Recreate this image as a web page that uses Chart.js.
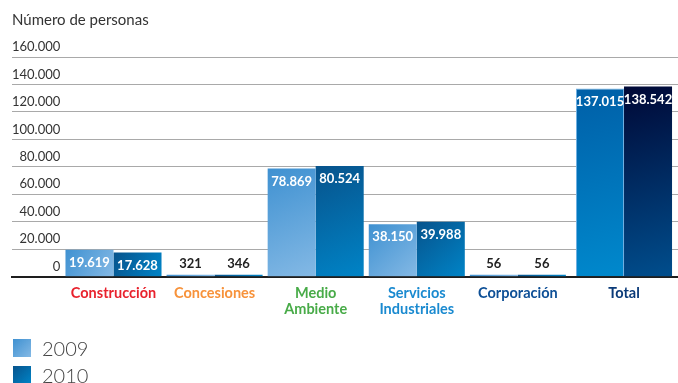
<!DOCTYPE html>
<html lang="es">
<head>
<meta charset="utf-8">
<title>Número de personas</title>
<script src="https://cdn.jsdelivr.net/npm/chart.js@4.4.1/dist/chart.umd.min.js"></script>
<style>
  html, body { margin: 0; padding: 0; background: #fff; }
  #wrap { position: relative; width: 678px; height: 383px; overflow: hidden; }
  #legend { position: absolute; left: 13px; top: 334px; font-family: Lato, "Open Sans", sans-serif; }
  #legend .item { display: flex; align-items: center; height: 27px; font-size: 20px; font-weight: 300; color: #444; }
  #legend .swatch { width: 18px; height: 18px; margin-right: 11px; }
</style>
</head>
<body>
<div id="wrap">
  <canvas id="staff" width="678" height="383"></canvas>
  <div id="legend"></div>
</div>
<script>
// Plantilla por área de actividad
const categories = ['Construcción', 'Concesiones', ['Medio', 'Ambiente'], ['Servicios', 'Industriales'], 'Corporación', 'Total'];
const categoryColors = ['#e8222d', '#f7923a', '#48ab48', '#1a8ad0', '#0d4f96', '#0a3a78'];
const seriesNames = ['2009', '2010'];
const values2009 = [19619, 321, 78869, 38150, 56, 137015];
const values2010 = [17628, 346, 80524, 39988, 56, 138542];
const yTicks = [0, 20000, 40000, 60000, 80000, 100000, 120000, 140000, 160000];

// gradient stops: [top-left, bottom-right]
const barFills = [['#3f91d1', '#84b9e5'], ['#07538c', '#0084c7']];
const totalFills = [['#005fa7', '#0089cd'], ['#000836', '#004e8d']];

const fmt = v => String(v).replace(/\B(?=(\d{3})+(?!\d))/g, '.');

// the Total group stands slightly apart from the rest
const xAt = i => i + (i === categories.length - 1 ? 0.05 : 0);

function fillFor(series) {
  return (c) => {
    const last = c.dataIndex === categories.length - 1;
    const stops = last ? totalFills[series] : barFills[series];
    const chart = c.chart;
    if (!chart.chartArea || !c.raw) return stops[0];
    const xs = chart.scales.x, ys = chart.scales.y;
    const cx = xs.getPixelForValue(c.raw.x) + (series === 0 ? -24 : 24);
    const top = ys.getPixelForValue(c.raw.y);
    const base = ys.getPixelForValue(0);
    const g = chart.ctx.createLinearGradient(cx - 24, top, cx + 24, base);
    g.addColorStop(0, stops[0]);
    g.addColorStop(1, stops[1]);
    return g;
  };
}

const toPoints = vals => vals.map((v, i) => ({ x: xAt(i), y: v }));

// numbers on top of each bar
const valueLabels = {
  id: 'valueLabels',
  afterDatasetsDraw(chart) {
    const ctx = chart.ctx;
    ctx.save();
    ctx.font = 'bold 13px Lato, "Open Sans", sans-serif';
    ctx.textAlign = 'center';
    ctx.textBaseline = 'middle';
    chart.data.datasets.forEach((ds, di) => {
      chart.getDatasetMeta(di).data.forEach((bar, i) => {
        const v = ds.data[i].y;
        const inside = v > 5000;
        ctx.fillStyle = inside ? '#ffffff' : '#222222';
        ctx.fillText(fmt(v), bar.x, inside ? bar.y + 13 : bar.y - 11);
      });
    });
    ctx.restore();
  }
};

const chart = new Chart(document.getElementById('staff'), {
  type: 'bar',
  data: {
    datasets: [
      {
        label: seriesNames[0],
        data: toPoints(values2009),
        backgroundColor: fillFor(0),
        borderColor: c => c.dataIndex === categories.length - 1 ? '#6fb0e2' : 'rgba(0,0,0,0)',
        borderWidth: c => c.dataIndex === categories.length - 1 ? 1 : 0,
        categoryPercentage: 0.95,
        barPercentage: 1,
        minBarLength: 2
      },
      {
        label: seriesNames[1],
        data: toPoints(values2010),
        backgroundColor: fillFor(1),
        categoryPercentage: 0.95,
        barPercentage: 1,
        minBarLength: 2
      }
    ]
  },
  options: {
    responsive: false,
    animation: false,
    layout: { padding: { left: 12, right: 0, top: 0, bottom: 65 } },
    plugins: {
      legend: { display: false },
      tooltip: { enabled: false },
      title: {
        display: true,
        text: 'Número de personas',
        align: 'start',
        color: '#333',
        font: { family: 'Lato, "Open Sans", sans-serif', size: 15, weight: 'normal' },
        padding: { top: 11, bottom: 28 }
      }
    },
    scales: {
      x: {
        type: 'linear',
        min: -1.004,
        max: 5.584,
        offset: false,
        z: 1,
        grid: { display: false, offset: false },
        border: { display: true, color: '#1e1e1e', width: 2 },
        afterBuildTicks: scale => { scale.ticks = categories.map((_, i) => ({ value: xAt(i) })); },
        ticks: {
          autoSkip: false,
          maxRotation: 0,
          padding: 1,
          color: c => categoryColors[c.index],
          font: { family: 'Lato, "Open Sans", sans-serif', size: 14.5, weight: 'bold', lineHeight: 1.08 },
          callback: (value, index) => categories[index]
        }
      },
      y: {
        min: 0,
        max: 160000,
        afterBuildTicks: scale => { scale.ticks = yTicks.map(v => ({ value: v })); },
        grid: { color: '#a9a9a9', lineWidth: 1, drawTicks: false },
        border: { display: false },
        ticks: {
          mirror: true,
          crossAlign: 'far',
          padding: 0,
          labelOffset: -10,
          color: '#333',
          font: { family: 'Lato, "Open Sans", sans-serif', size: 13 },
          callback: v => fmt(v)
        }
      }
    }
  },
  plugins: [valueLabels]
});

// legend underneath, one row per year
const legend = document.getElementById('legend');
seriesNames.forEach((name, i) => {
  const item = document.createElement('div');
  item.className = 'item';
  const sw = document.createElement('span');
  sw.className = 'swatch';
  sw.style.background = `linear-gradient(135deg, ${barFills[i][0]}, ${barFills[i][1]})`;
  item.appendChild(sw);
  item.appendChild(document.createTextNode(name));
  legend.appendChild(item);
});
</script>
</body>
</html>
